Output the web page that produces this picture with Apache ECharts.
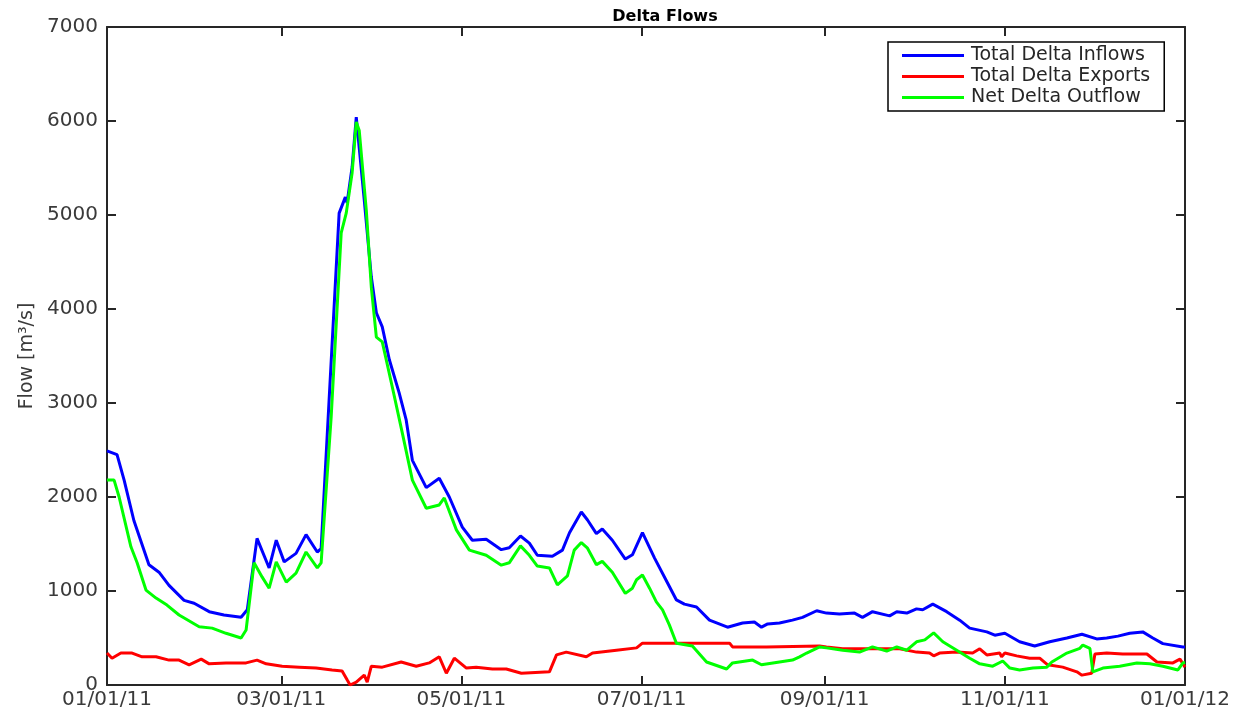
<!DOCTYPE html>
<html>
<head>
<meta charset="utf-8">
<script src="https://cdn.jsdelivr.net/npm/echarts@6/dist/echarts.min.js"></script>
<style>
  html, body { margin: 0; padding: 0; background: #fff; }
  #deltaFlows { width: 1244px; height: 717px; }
</style>
</head>
<body>
<div id="deltaFlows"></div>
<script>
// x positions are days since 01/01/11
const tickDays = [0, 59, 120, 181, 243, 304, 365]
const tickLabels = ['01/01/11', '03/01/11', '05/01/11', '07/01/11', '09/01/11', '11/01/11', '01/01/12']

const inflowDays = [0, 3.4, 5.8, 9.1, 14.2, 17.6, 21, 26.1, 29.5, 34.6, 39.6, 45.4, 47.5, 50.8, 54.9, 57.3, 60, 64, 67.4, 71.2, 72.5, 75.2, 78.6, 80.7, 81.3, 83, 84.4, 87.1, 89.5, 91.2, 93.2, 95.6, 98.9, 101.3, 103.4, 108.1, 112.5, 115.9, 120.3, 123.7, 128.4, 133.5, 136.2, 140, 143, 145.7, 150.8, 154.2, 156.6, 160.6, 162.7, 165.7, 167.7, 171.1, 175.5, 177.9, 181.3, 185.4, 189.8, 192.8, 195.5, 199.6, 204, 210.1, 215.2, 219.2, 221.6, 223.7, 227.7, 232.1, 235.5, 240.3, 243.6, 248, 253.1, 255.8, 259.2, 265, 267.4, 270.8, 274.1, 276.2, 279.6, 284.3, 288.7, 292.1, 297.9, 300.6, 304, 309, 314.1, 319.2, 325, 330.1, 335.1, 338.5, 342.3, 346.3, 350.7, 354.1, 357.5, 364.3, 365]
const inflowValues = [2490, 2450, 2180, 1750, 1280, 1200, 1060, 900, 870, 780, 745, 720, 800, 1560, 1245, 1540, 1310, 1400, 1600, 1415, 1450, 3030, 5020, 5190, 5130, 5510, 6040, 5160, 4340, 3960, 3810, 3460, 3110, 2820, 2390, 2100, 2200, 2000, 1680, 1540, 1550, 1440, 1460, 1585, 1510, 1380, 1370, 1435, 1620, 1840, 1755, 1610, 1660, 1540, 1340, 1385, 1620, 1350, 1085, 905, 860, 830, 690, 615, 660, 670, 615, 650, 660, 690, 720, 790, 765, 755, 765, 720, 780, 735, 780, 765, 810, 800, 860, 780, 690, 605, 565, 530, 550, 460, 415, 460, 500, 540, 490, 500, 520, 550, 565, 500, 440, 405, 405]

const exportDays = [0, 1.7, 4.7, 8.5, 11.9, 16.6, 21, 24.4, 27.8, 31.9, 34.6, 40.3, 47.1, 50.8, 53.9, 59.3, 65.1, 70.8, 76.2, 79.6, 81.3, 82.3, 84.4, 87.1, 88.1, 89.5, 93.2, 99.6, 104.7, 109.1, 112.5, 114.9, 117.6, 121.7, 125, 130.5, 135.2, 140.3, 149.8, 152.2, 155.5, 162.3, 164.4, 172.5, 179.3, 181.3, 189.4, 210.8, 211.8, 223.3, 241.3, 243.6, 249.1, 257.2, 268.4, 274.1, 278.5, 279.9, 281.9, 287.7, 293.1, 295.5, 297.9, 302.3, 302.9, 304, 308, 312.4, 315.8, 318.5, 323.6, 328.4, 330.1, 333.4, 334.5, 338.5, 343.9, 352.1, 355.5, 360.9, 363.3, 365]
const exportValues = [340, 285, 340, 340, 300, 300, 265, 265, 215, 275, 225, 235, 235, 265, 225, 200, 190, 180, 160, 150, 55, 0, 30, 105, 30, 200, 190, 245, 200, 235, 300, 125, 285, 180, 190, 170, 170, 125, 140, 320, 350, 300, 340, 370, 395, 445, 445, 445, 405, 405, 415, 405, 385, 385, 385, 350, 340, 310, 340, 350, 340, 385, 320, 340, 300, 340, 310, 285, 285, 215, 190, 140, 105, 125, 330, 340, 330, 330, 245, 235, 275, 190]

const outflowDays = [0, 2.4, 4.1, 8.1, 10.2, 13.2, 16.6, 20.3, 24.4, 31.2, 35.6, 40.3, 45.4, 47.1, 49.8, 52.5, 54.9, 57.3, 60.7, 64, 67.4, 71.2, 72.5, 75.9, 79.3, 81, 83, 84.4, 85.4, 87.8, 89.5, 91.2, 93.2, 96.6, 100, 103.4, 108.1, 112.5, 114.2, 118.3, 122.7, 128.4, 133.5, 136.2, 140, 143, 145.7, 149.8, 152.5, 155.9, 158.2, 160.6, 162.7, 165.7, 167.7, 171.1, 175.5, 177.9, 179.3, 181.3, 183.7, 186, 188.1, 190.4, 192.8, 198.2, 203, 209.8, 211.8, 218.6, 221.6, 227.7, 232.1, 234.5, 236.9, 241.3, 243.6, 249.1, 254.8, 259.2, 264, 267.4, 270.8, 274.1, 276.9, 279.9, 283, 287.7, 292.1, 295.5, 299.9, 303.3, 305.7, 309, 313.5, 318.2, 319.9, 325, 329.4, 330.4, 332.8, 333.8, 337.2, 342.9, 348.7, 353.1, 357.5, 362.6, 364.3, 365]
const outflowValues = [2180, 2180, 2000, 1470, 1300, 1010, 925, 850, 745, 620, 605, 550, 500, 585, 1300, 1150, 1030, 1310, 1095, 1190, 1415, 1245, 1300, 2850, 4810, 5020, 5450, 5990, 5900, 5050, 4230, 3700, 3650, 3170, 2680, 2180, 1880, 1915, 1990, 1650, 1435, 1380, 1275, 1300, 1480, 1380, 1265, 1245, 1065, 1160, 1435, 1515, 1455, 1280, 1315, 1200, 975, 1030, 1120, 1170, 1030, 885, 800, 640, 445, 415, 245, 170, 235, 265, 215, 245, 265, 300, 340, 405, 395, 370, 350, 405, 360, 405, 370, 460, 480, 555, 460, 370, 285, 225, 200, 255, 180, 160, 180, 190, 245, 340, 390, 425, 390, 140, 180, 200, 235, 225, 200, 160, 235, 240]

const pairs = (days, values) => days.map((d, i) => [d, values[i]])

const labelFont = 'DejaVu Sans'
const axisColor = '#262626'
const labelColor = '#3a3a3a'

const chart = echarts.init(document.getElementById('deltaFlows'), null, { renderer: 'canvas' })

chart.setOption({
    animation: false,
    backgroundColor: '#fff',
    title: {
        text: 'Delta Flows',
        left: 660,
        top: 4,
        textAlign: 'center',
        textStyle: { fontFamily: labelFont, fontSize: 16, fontWeight: 'bold', color: '#000' },
    },
    grid: { left: 107, right: 59, top: 27, bottom: 32 },
    legend: {
        orient: 'vertical',
        left: 888,
        top: 42,
        padding: [4, 14, 4, 14],
        itemGap: 2,
        itemWidth: 62,
        itemHeight: 3,
        icon: 'rect',
        borderColor: '#000',
        borderWidth: 1.5,
        backgroundColor: '#fff',
        textStyle: { fontFamily: labelFont, fontSize: 19, color: '#262626', padding: [0, 0, 0, 2] },
        data: ['Total Delta Inflows', 'Total Delta Exports', 'Net Delta Outflow'],
    },
    xAxis: [{
        type: 'value',
        min: 0,
        max: 365,
        splitLine: { show: false },
        axisLine: { lineStyle: { color: axisColor, width: 2 } },
        axisTick: { inside: true, length: 9, customValues: tickDays, lineStyle: { width: 2, color: axisColor } },
        axisLabel: {
            customValues: tickDays,
            formatter: (v) => tickLabels[tickDays.indexOf(v)],
            fontFamily: labelFont, fontSize: 20, color: labelColor, margin: 5,
        },
    }, {
        type: 'value',
        position: 'top',
        min: 0,
        max: 365,
        splitLine: { show: false },
        axisLine: { onZero: false, lineStyle: { color: axisColor, width: 2 } },
        axisTick: { inside: true, length: 9, customValues: tickDays, lineStyle: { width: 2, color: axisColor } },
        axisLabel: { show: false },
    }],
    yAxis: [{
        type: 'value',
        min: 0,
        max: 7000,
        interval: 1000,
        name: 'Flow [m³/s]',
        nameLocation: 'middle',
        nameGap: 70,
        nameTextStyle: { fontFamily: labelFont, fontSize: 19, color: labelColor },
        splitLine: { show: false },
        axisLine: { show: true, lineStyle: { color: axisColor, width: 2 } },
        axisTick: { show: true, inside: true, length: 9, lineStyle: { width: 2, color: axisColor } },
        axisLabel: {
            formatter: (v) => String(v),
            fontFamily: labelFont, fontSize: 20, color: labelColor, margin: 9,
        },
    }, {
        type: 'value',
        position: 'right',
        min: 0,
        max: 7000,
        interval: 1000,
        splitLine: { show: false },
        axisLine: { show: true, onZero: false, lineStyle: { color: axisColor, width: 2 } },
        axisTick: { show: true, inside: true, length: 9, lineStyle: { width: 2, color: axisColor } },
        axisLabel: { show: false },
    }],
    series: [{
        name: 'Total Delta Inflows',
        type: 'line',
        symbol: 'none',
        data: pairs(inflowDays, inflowValues),
        lineStyle: { color: '#0000ff', width: 3 },
        itemStyle: { color: '#0000ff' },
    }, {
        name: 'Total Delta Exports',
        type: 'line',
        symbol: 'none',
        data: pairs(exportDays, exportValues),
        lineStyle: { color: '#ff0000', width: 3 },
        itemStyle: { color: '#ff0000' },
    }, {
        name: 'Net Delta Outflow',
        type: 'line',
        symbol: 'none',
        data: pairs(outflowDays, outflowValues),
        lineStyle: { color: '#00ff00', width: 3 },
        itemStyle: { color: '#00ff00' },
    }]
})

window.addEventListener('resize', () => {
    if (chart) chart.resize()
})
</script>
</body>
</html>
